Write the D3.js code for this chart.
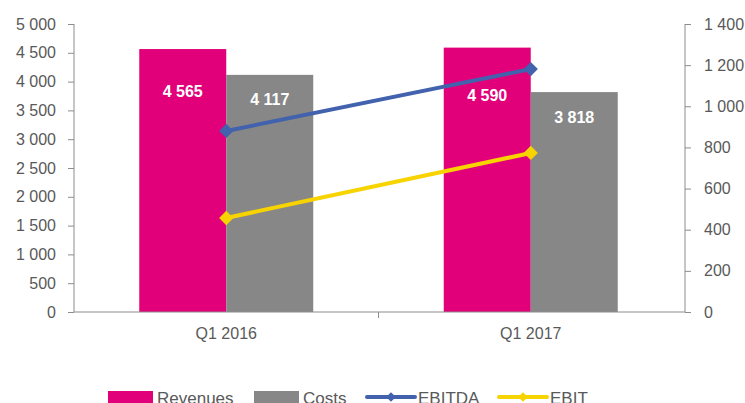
<!DOCTYPE html>
<html lang="en">
<head>
<meta charset="UTF-8">
<title>Revenues, Costs, EBITDA, EBIT</title>
<script src="https://cdn.jsdelivr.net/npm/d3@7"></script>
<style>
    body { margin: 0; background: #fff; }
    text { font-family: "Liberation Sans", Arial, sans-serif; }
</style>
</head>
<body>
<svg id="chart" width="745" height="403"></svg>
<script>
    // data
    let quarters = ["Q1 2016", "Q1 2017"]
    let revenues = [4565, 4590]
    let costs = [4117, 3818]
    let ebitda = [880, 1181]
    let ebit = [457, 773]
    let leftTicks = [0, 500, 1000, 1500, 2000, 2500, 3000, 3500, 4000, 4500, 5000]
    let rightTicks = [0, 200, 400, 600, 800, 1000, 1200, 1400]

    let colors = {rev: "#e2007a", cost: "#878787", ebitda: "#4262ad", ebit: "#f7d300"}
    let axisColor = "#8c8c8c"
    let textColor = "#595959"

    let svg = d3.select("#chart")
    let mLeft = 74, mRight = 685, mTop = 24, mBottom = 312

    let x = d3.scaleBand().domain(quarters).range([mLeft, mRight - 2])
    let sub = d3.scaleBand().domain(["rev", "cost"]).range([0, x.bandwidth()]).paddingOuter(0.75).paddingInner(0)
    let yL = d3.scaleLinear().domain([0, 5000]).range([mBottom, mTop])
    let yR = d3.scaleLinear().domain([0, 1400]).range([mBottom, mTop])

    let fmt = d => d3.format(",")(d).replace(/,/g, " ")

    // bars
    let groups = svg.selectAll(".grp").data(quarters).enter().append("g")
        .attr("transform", d => "translate(" + x(d) + ",0)")
    groups.append("rect")
        .attr("x", sub("rev")).attr("width", sub.bandwidth())
        .attr("y", (d, i) => yL(revenues[i])).attr("height", (d, i) => mBottom - yL(revenues[i]))
        .attr("fill", colors.rev)
    groups.append("rect")
        .attr("x", sub("cost")).attr("width", sub.bandwidth())
        .attr("y", (d, i) => yL(costs[i])).attr("height", (d, i) => mBottom - yL(costs[i]))
        .attr("fill", colors.cost)

    // bar labels
    let revOffset = [48, 53]
    let costOffset = [30, 31]
    groups.append("text")
        .attr("x", sub("rev") + sub.bandwidth() / 2)
        .attr("y", (d, i) => yL(revenues[i]) + revOffset[i])
        .attr("text-anchor", "middle").attr("fill", "#fff")
        .style("font-weight", "bold").style("font-size", "16px")
        .text((d, i) => fmt(revenues[i]))
    groups.append("text")
        .attr("x", sub("cost") + sub.bandwidth() / 2)
        .attr("y", (d, i) => yL(costs[i]) + costOffset[i])
        .attr("text-anchor", "middle").attr("fill", "#fff")
        .style("font-weight", "bold").style("font-size", "16px")
        .text((d, i) => fmt(costs[i]))

    // axes
    let leftAxis = svg.append("g").attr("transform", "translate(" + mLeft + ",0)")
        .call(d3.axisLeft(yL).tickValues(leftTicks).tickSize(6).tickPadding(12).tickFormat(fmt))
    let rightAxis = svg.append("g").attr("transform", "translate(" + mRight + ",0)")
        .call(d3.axisRight(yR).tickValues(rightTicks).tickSize(6).tickPadding(13).tickFormat(fmt))
    let xAxis = svg.append("g").attr("transform", "translate(0," + mBottom + ")")
        .call(d3.axisBottom(x).tickSize(0).tickPadding(16))
    xAxis.append("line").attr("x1", mLeft + x.bandwidth()).attr("x2", mLeft + x.bandwidth())
        .attr("y1", 0).attr("y2", 6).attr("stroke", axisColor)
    for (let a of [leftAxis, rightAxis, xAxis]) {
        a.selectAll("path.domain").attr("stroke", axisColor)
        a.selectAll(".tick line").attr("stroke", axisColor)
        a.selectAll("text").attr("fill", textColor).style("font-size", "16px")
            .style("font-family", "'Liberation Sans', Arial, sans-serif")
    }
    leftAxis.select("path.domain").attr("d", "M0," + mTop + "V" + mBottom)
    rightAxis.select("path.domain").attr("d", "M0," + mTop + "V" + mBottom)
    xAxis.select("path.domain").attr("d", "M" + mLeft + ",0H" + mRight)

    // lines
    let lineData = [[ebitda, colors.ebitda], [ebit, colors.ebit]]
    for (let [vals, col] of lineData) {
        let pts = quarters.map((q, i) => [x(q) + x.bandwidth() / 2, yR(vals[i])])
        svg.append("path").attr("d", d3.line()(pts))
            .attr("fill", "none").attr("stroke", col).attr("stroke-width", 4)
        svg.selectAll(null).data(pts).enter().append("path")
            .attr("d", d3.symbol(d3.symbolDiamond2, 130)())
            .attr("transform", d => "translate(" + d[0] + "," + d[1] + ")")
            .attr("fill", col)
    }

    // legend
    let legendItems = [
        {name: "Revenues", color: colors.rev, type: "rect", x: 108},
        {name: "Costs", color: colors.cost, type: "rect", x: 254},
        {name: "EBITDA", color: colors.ebitda, type: "line", x: 367},
        {name: "EBIT", color: colors.ebit, type: "line", x: 499}
    ]
    let lg = svg.append("g")
    for (let it of legendItems) {
        if (it.type === "rect") {
            lg.append("rect").attr("x", it.x).attr("y", 391).attr("width", 45).attr("height", 16).attr("fill", it.color)
        } else {
            lg.append("line").attr("x1", it.x).attr("x2", it.x + 48).attr("y1", 397).attr("y2", 397)
                .attr("stroke", it.color).attr("stroke-width", 4).attr("stroke-linecap", "round")
            lg.append("path").attr("d", d3.symbol(d3.symbolDiamond2, 60)())
                .attr("transform", "translate(" + (it.x + 24) + ",397)").attr("fill", it.color)
        }
        lg.append("text").attr("x", it.x + (it.type === "rect" ? 49 : 51)).attr("y", 404)
            .attr("fill", textColor).style("font-size", "17px").text(it.name)
    }
</script>
</body>
</html>
